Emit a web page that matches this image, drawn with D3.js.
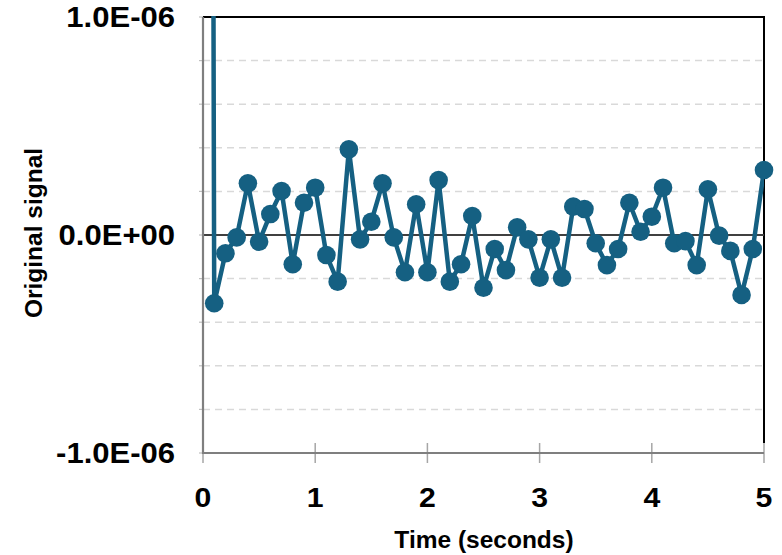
<!DOCTYPE html>
<html><head><meta charset="utf-8">
<script src="https://cdn.jsdelivr.net/npm/d3@7"></script>
<style>body{margin:0;background:#fff}svg{display:block}</style>
</head><body><svg id="c" width="782" height="555"></svg>
<script>
// ---- data ----
const time = [0.0,0.1,0.2,0.3,0.4,0.5,0.6,0.7,0.8,0.9,1.0,1.1,1.2,1.3,1.4,1.5,1.6,1.7,1.8,1.9,2.0,
  2.1,2.2,2.3,2.4,2.5,2.6,2.7,2.8,2.9,3.0,3.1,3.2,3.3,3.4,3.5,3.6,3.7,3.8,3.9,4.0,
  4.1,4.2,4.3,4.4,4.5,4.6,4.7,4.8,4.9,5.0];
const signal = [2.0e-5,-3.13e-7,-0.84e-7,-0.11e-7,2.37e-7,-0.31e-7,0.96e-7,2.02e-7,-1.34e-7,1.48e-7,2.17e-7,
  -0.92e-7,-2.14e-7,3.93e-7,-0.20e-7,0.61e-7,2.37e-7,-0.11e-7,-1.71e-7,1.41e-7,-1.71e-7,
  2.52e-7,-2.14e-7,-1.34e-7,0.87e-7,-2.42e-7,-0.64e-7,-1.61e-7,0.35e-7,-0.20e-7,-1.96e-7,
  -0.20e-7,-1.96e-7,1.30e-7,1.19e-7,-0.38e-7,-1.38e-7,-0.64e-7,1.48e-7,0.15e-7,0.84e-7,
  2.17e-7,-0.38e-7,-0.28e-7,-1.38e-7,2.10e-7,-0.03e-7,-0.73e-7,-2.75e-7,-0.64e-7,2.98e-7];
const xTicks = [0,1,2,3,4,5];
const yMajorTicks = [-1e-6, 0, 1e-6];
const yMinorTicks = [-1e-6,-8e-7,-6e-7,-4e-7,-2e-7,0,2e-7,4e-7,6e-7,8e-7,1e-6];
const xTitle = "Time (seconds)";
const yTitle = "Original signal";

// ---- chart ----
const svg = d3.select("#c");
const FONT = "'Liberation Sans', Arial, sans-serif";
const P = {left:203, right:764, top:17, bottom:453};
const x = d3.scaleLinear().domain([0,5]).range([P.left,P.right]);
const y = d3.scaleLinear().domain([-1e-6,1e-6]).range([P.bottom,P.top]);
const color = "#156082";

function excelSci(v){
  if (v === 0) return "0.0E+00";
  const s = d3.format(".1e")(v).replace("\u2212","-");
  const [mant, ex] = s.split("e");
  const e = +ex;
  return mant + "E" + (e < 0 ? "-" : "+") + String(Math.abs(e)).padStart(2,"0");
}

// dashed gridlines
svg.append("g").selectAll("line")
  .data(yMinorTicks.filter(v => Math.abs(v) > 1e-12 && Math.abs(v) < 0.99e-6))
  .join("line")
  .attr("x1", P.left).attr("x2", P.right)
  .attr("y1", d => y(d)).attr("y2", d => y(d))
  .attr("stroke", "#d9d9d9").attr("stroke-width", 1.5)
  .attr("stroke-dasharray", "7,5");

// minor y ticks
svg.append("g").selectAll("line")
  .data(yMinorTicks)
  .join("line")
  .attr("x1", P.left - 4).attr("x2", P.left)
  .attr("y1", d => y(d)).attr("y2", d => y(d))
  .attr("stroke", "#bfbfbf").attr("stroke-width", 1.2);

// x ticks (cross)
svg.append("g").selectAll("line")
  .data(xTicks)
  .join("line")
  .attr("x1", d => x(d)).attr("x2", d => x(d))
  .attr("y1", P.bottom - 10).attr("y2", P.bottom + 10)
  .attr("stroke", "#a6a6a6").attr("stroke-width", 1.5);

// top & right border (black)
svg.append("path")
  .attr("d", `M${P.left},${P.top}H${P.right}V${P.bottom - 10}`)
  .attr("fill", "none").attr("stroke", "#000").attr("stroke-width", 2);

// zero line
svg.append("line")
  .attr("x1", P.left).attr("x2", P.right)
  .attr("y1", y(0)).attr("y2", y(0))
  .attr("stroke", "#404040").attr("stroke-width", 2);

// left & bottom axis lines (gray)
svg.append("path")
  .attr("d", `M${P.left},${P.top}V${P.bottom}H${P.right}`)
  .attr("fill", "none").attr("stroke", "#7f7f7f").attr("stroke-width", 2.2);

// y tick labels
svg.append("g").selectAll("text")
  .data(yMajorTicks)
  .join("text")
  .attr("transform", d => `translate(175,${y(d)}) scale(1.07,1)`)
  .attr("dy", "0.36em")
  .attr("text-anchor", "end")
  .attr("font-family", FONT).attr("font-weight", "bold").attr("font-size", 29)
  .attr("fill", "#000")
  .text(excelSci);

// x tick labels
svg.append("g").selectAll("text")
  .data(xTicks)
  .join("text")
  .attr("transform", d => `translate(${x(d)},507) scale(1.12,1)`)
  .attr("text-anchor", "middle")
  .attr("font-family", FONT).attr("font-weight", "bold").attr("font-size", 27)
  .attr("fill", "#000")
  .text(d => d);

// axis titles
svg.append("text")
  .attr("x", 484).attr("y", 548)
  .attr("text-anchor", "middle")
  .attr("font-family", FONT).attr("font-weight", "bold").attr("font-size", 24.5)
  .text(xTitle);
svg.append("text")
  .attr("transform", "translate(42,233) rotate(-90)")
  .attr("text-anchor", "middle")
  .attr("font-family", FONT).attr("font-weight", "bold").attr("font-size", 24.5)
  .text(yTitle);

// clip for line
svg.append("clipPath").attr("id", "plotClip")
  .append("rect")
  .attr("x", P.left).attr("y", P.top - 1)
  .attr("width", P.right - P.left).attr("height", P.bottom - P.top + 1);

const pts = time.map((t, i) => ({t, v: signal[i]}));
svg.append("path")
  .datum(pts)
  .attr("clip-path", "url(#plotClip)")
  .attr("d", d3.line().x(d => x(d.t)).y(d => y(d.v)))
  .attr("fill", "none").attr("stroke", color).attr("stroke-width", 4.5)
  .attr("stroke-linejoin", "round");

svg.append("g").selectAll("circle")
  .data(pts.filter(d => d.v <= 1e-6 && d.v >= -1e-6))
  .join("circle")
  .attr("cx", d => x(d.t)).attr("cy", d => y(d.v))
  .attr("r", 9.3)
  .attr("fill", color);
</script></body></html>
